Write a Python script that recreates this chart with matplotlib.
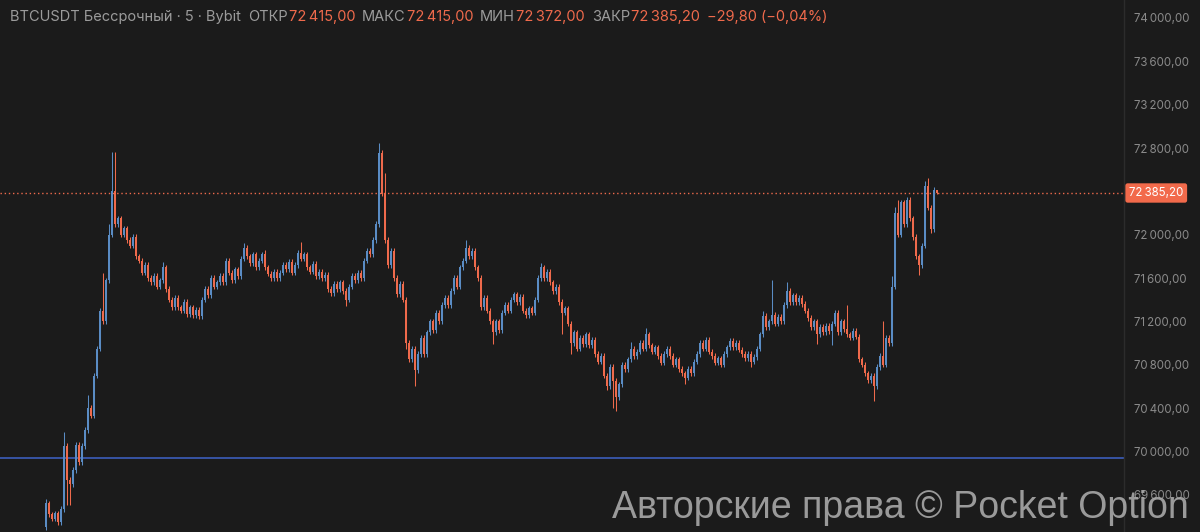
import matplotlib
matplotlib.use("Agg")
import matplotlib.pyplot as plt
from matplotlib.ticker import FuncFormatter
from matplotlib.transforms import blended_transform_factory

# ---------------- data ----------------
OPEN0 = 69300
CLOSES = [
    69520, 69420, 69380, 69430, 69350, 69470, 70050, 69740, 69700, 69830,
    70060, 69900, 70050, 70200, 70400, 70330, 70700, 70950, 71300, 71200,
    71580, 72000, 72400, 72100, 72150, 72000, 72060, 71950, 71900, 71980,
    71800, 71760, 71650, 71720, 71600, 71560, 71620, 71520, 71580, 71700,
    71500, 71400, 71330, 71420, 71330, 71300, 71380, 71270, 71330, 71260,
    71310, 71250, 71400, 71500, 71440, 71600, 71520, 71560, 71620, 71560,
    71760, 71650, 71580, 71680, 71620, 71780, 71880, 71800, 71740, 71820,
    71700, 71760, 71820, 71700, 71640, 71600, 71660, 71600, 71650, 71720,
    71680, 71750, 71650, 71720, 71830, 71780, 71820, 71700, 71660, 71730,
    71620, 71660, 71600, 71630, 71500, 71460, 71550, 71500, 71560, 71480,
    71400, 71520, 71620, 71580, 71650, 71600, 71760, 71850, 71820, 71950,
    72100, 72750, 72380, 71950, 71720, 71850, 71600, 71450, 71550, 71400,
    71000, 70850, 70950, 70750, 70900, 71050, 70900, 71100, 71200, 71120,
    71280, 71200, 71350, 71420, 71350, 71480, 71600, 71520, 71700, 71760,
    71880, 71800, 71850, 71700, 71600, 71330, 71420, 71300, 71200, 71100,
    71200, 71120, 71280, 71350, 71300, 71400, 71450, 71380, 71430, 71300,
    71260, 71320, 71280, 71400, 71600, 71700, 71600, 71660, 71560, 71480,
    71520, 71380, 71280, 71320, 71180, 71000, 71100, 70950, 71050, 70990,
    71080, 70980, 71030, 70900, 70830, 70880, 70700, 70600, 70780, 70650,
    70500, 70620, 70800, 70760, 70850, 70950, 70880, 70920, 71000, 70950,
    71080, 70980, 70920, 70960, 70880, 70820, 70900, 70950, 70880, 70800,
    70850, 70760, 70720, 70680, 70760, 70720, 70830, 70900, 71000, 70950,
    71030, 70920, 70880, 70820, 70860, 70800, 70900, 70960, 71020, 70960,
    71000, 70940, 70900, 70860, 70900, 70830, 70870, 70950, 71080, 71250,
    71150, 71200, 71260, 71180, 71240, 71200, 71350, 71480, 71380, 71440,
    71380, 71420, 71360, 71300, 71230, 71150, 71200, 71080, 71150, 71100,
    71160, 71110, 71180, 71280, 71100, 71200, 71130, 71080, 71050, 71110,
    71060, 70850, 70800, 70720, 70660, 70700, 70600, 70780, 70880, 70800,
    71050, 71000, 71520, 72200, 72000, 72300, 72100, 72320, 72150, 71980,
    71800, 71720, 71900, 72450, 72250, 72050, 72415, 72385.2,
]
WICK_DEFAULT = 25
WICK_UP = {0: 40, 6: 130, 14: 120, 19: 350, 21: 100, 22: 360, 23: 360, 39: 50,
           66: 40, 73: 40, 85: 100, 111: 100, 112: 30, 113: 190, 140: 70,
           165: 40, 195: 60, 200: 60, 239: 50, 242: 320, 247: 80, 267: 220,
           279: 320, 282: 100, 283: 60, 284: 120, 293: 50, 294: 70, 297: 0}
WICK_DN = {7: 230, 8: 190, 100: 60, 120: 50, 123: 150, 149: 110, 172: 200,
           175: 100, 187: 30, 189: 250, 190: 130, 213: 60, 235: 50, 257: 90,
           262: 130, 276: 130, 291: 90, 295: 30, 297: 13.2}

SHOWN_TICKS = [69600, 70000, 70400, 70800, 71200, 71600, 72000, 72800,
               73200, 73600, 74000]
LAST_PRICE = 72385.2
LEVEL_LINE = 69940

HEADER = [("BTCUSDT Бессрочный · 5 · Bybit", "g"), ("ОТКР", "g"),
          ("72\u202f415,00", "o"), ("МАКС", "g"), ("72\u202f415,00", "o"),
          ("МИН", "g"), ("72\u202f372,00", "o"), ("ЗАКР", "g"),
          ("72\u202f385,20", "o"), ("\u221229,80 (\u22120,04%)", "o")]
HEADER_X = [10, 248]

WATERMARK = "Авторские права © Pocket Option"

# ---------------- style ----------------
BG = "#1b1b1b"
UP = "#5a8cc4"
DN = "#ef6a4c"
GRAY = "#9b9b9b"
TICK_GRAY = "#8a8a8a"
FONT = ["Inter", "DejaVu Sans"]

W, H = 1200, 532
fig = plt.figure(figsize=(W / 100, H / 100), dpi=100, facecolor=BG)
ax = fig.add_axes([0, 0, 1124 / W, 1])
ax.set_facecolor(BG)

n = len(CLOSES)
opens = [OPEN0] + CLOSES[:-1]
xs = list(range(n))
px_per_unit = 3.0  # candle spacing (pixels)
x0_px = 46
ax.set_xlim(-x0_px / px_per_unit, (1124 - x0_px) / px_per_unit)
ax.set_ylim(69257, 74166)

for i in xs:
    o, c = opens[i], CLOSES[i]
    col = UP if c >= o else DN
    top, bot = max(o, c), min(o, c)
    hi = top + WICK_UP.get(i, WICK_DEFAULT)
    lo = bot - WICK_DN.get(i, WICK_DEFAULT)
    ax.vlines(i, lo, hi, color=col, linewidth=0.75, zorder=2)
    h = max(top - bot, 10)
    ax.bar(i, h, bottom=bot, width=0.7, color=col, linewidth=0, zorder=3)

# price line & level line
ax.axhline(LAST_PRICE, color=DN, linestyle=(0, (1, 2)), linewidth=1.0, zorder=1)
ax.axhline(LEVEL_LINE, color="#3f63c9", linewidth=1.1, zorder=1)

# axes styling
for s in ["top", "left", "bottom"]:
    ax.spines[s].set_visible(False)
ax.spines["right"].set_color("#2c2c2c")
ax.spines["right"].set_linewidth(1)
ax.set_xticks([])
ax.yaxis.tick_right()
ax.set_yticks(SHOWN_TICKS)
fmt = lambda v, pos: f"{int(v) // 1000}\u202f{int(v) % 1000:03d},00"
ax.yaxis.set_major_formatter(FuncFormatter(fmt))
ax.tick_params(axis="y", length=0, pad=7, labelsize=8.3, labelcolor=TICK_GRAY)
for lab in ax.get_yticklabels():
    lab.set_family(FONT)

# price tag
tr = blended_transform_factory(ax.transAxes, ax.transData)
lp = f"{int(LAST_PRICE) // 1000}\u202f{int(LAST_PRICE) % 1000:03d},{int(round(LAST_PRICE * 100)) % 100:02d}"
ax.text(1.0045, LAST_PRICE, lp, transform=tr, ha="left", va="center",
        fontsize=8.3, color="white", family=FONT, clip_on=False, zorder=5,
        bbox=dict(boxstyle="round,pad=0.32,rounding_size=0.2", fc="#f26a4b", ec="none"))

# header: chain pieces so that label and value sit next to each other
renderer = fig.canvas.get_renderer()
x = HEADER_X[0]
prev_kind = None
for k, (txt, c) in enumerate(HEADER):
    if k == 1:
        x = HEADER_X[1]
    elif k > 0:
        x = x + (1 if (prev_kind == "g" and c == "o") else 7)
    t = fig.text(x / W, 1 - 17 / H, txt, ha="left", va="center", fontsize=10.5,
                 color=GRAY if c == "g" else DN, family=FONT)
    bb = t.get_window_extent(renderer)
    x = bb.x1
    prev_kind = c

# watermark
fig.text(612 / W, 1 - 508 / H, WATERMARK, ha="left", va="center",
         fontsize=27, color="#a9a9a9", alpha=0.9,
         family=["Liberation Sans", "DejaVu Sans"], zorder=10)

fig.savefig("out.png", dpi=100, facecolor=BG)
